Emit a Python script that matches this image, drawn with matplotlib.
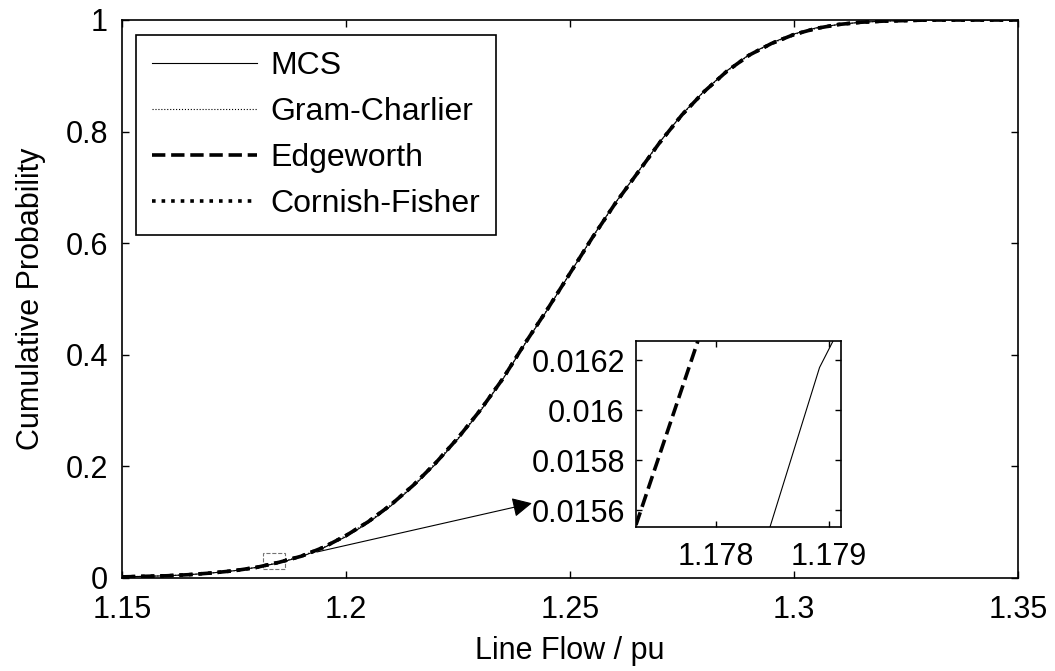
import numpy as np
import matplotlib.pyplot as plt
from matplotlib.patches import Rectangle

plt.rcParams['font.family'] = ['Liberation Sans', 'DejaVu Sans']
plt.rcParams['font.size'] = 22

# cumulative distribution of line flow (pu)
flow = [1.15, 1.155, 1.16, 1.165, 1.17, 1.175, 1.18, 1.185, 1.19, 1.195,
        1.20, 1.205, 1.21, 1.215, 1.22, 1.225, 1.23, 1.235, 1.24, 1.245,
        1.25, 1.255, 1.26, 1.265, 1.27, 1.275, 1.28, 1.285, 1.29, 1.295,
        1.30, 1.305, 1.31, 1.315, 1.32, 1.325, 1.33, 1.35]
cdf_mcs = [0.002, 0.003, 0.004, 0.006, 0.009, 0.013, 0.019, 0.027, 0.038, 0.054,
           0.074, 0.099, 0.129, 0.164, 0.204, 0.249, 0.299, 0.356, 0.420, 0.481,
           0.546, 0.611, 0.671, 0.726, 0.781, 0.831, 0.873, 0.909, 0.938, 0.959,
           0.975, 0.986, 0.992, 0.996, 0.998, 0.999, 1.0, 1.0]
cdf_gc = [0.002, 0.003, 0.004, 0.006, 0.009, 0.013, 0.019, 0.028, 0.039, 0.055,
          0.076, 0.101, 0.131, 0.166, 0.206, 0.251, 0.301, 0.357, 0.421, 0.482,
          0.546, 0.610, 0.670, 0.725, 0.780, 0.830, 0.872, 0.908, 0.937, 0.958,
          0.974, 0.985, 0.992, 0.996, 0.998, 0.999, 1.0, 1.0]
cdf_ew = cdf_gc
cdf_cf = cdf_gc

# zoomed segment around 1.178 pu
zoom_x_mcs = [1.17848, 1.17892, 1.17904]
zoom_y_mcs = [0.015532, 0.016170, 0.016276]
zoom_x_exp = [1.17729, 1.17784]
zoom_y_exp = [0.015540, 0.016276]

fig = plt.figure(figsize=(10.55, 6.71), dpi=100)
ax = fig.add_axes([0.1156, 0.1386, 0.8493, 0.8316])

ax.plot(flow, cdf_mcs, 'k-', lw=0.8, label='MCS')
ax.plot(flow, cdf_gc, color='k', ls=':', lw=0.8, label='Gram-Charlier')
ax.plot(flow, cdf_ew, 'k--', lw=2.6, label='Edgeworth')
ax.plot(flow, cdf_cf, 'k:', lw=2.6, label='Cornish-Fisher')

ax.set_xlim(1.15, 1.35)
ax.set_ylim(0, 1)
ax.set_xticks([1.15, 1.2, 1.25, 1.3, 1.35])
ax.set_xticklabels(['1.15', '1.2', '1.25', '1.3', '1.35'])
ax.set_yticks([0, 0.2, 0.4, 0.6, 0.8, 1])
ax.set_yticklabels(['0', '0.2', '0.4', '0.6', '0.8', '1'])
ax.tick_params(direction='in', top=True, right=True, length=5, width=1, pad=10)
ax.tick_params(axis='x', pad=12)
for s in ax.spines.values():
    s.set_linewidth(1.2)
ax.set_xlabel('Line Flow / pu', labelpad=8)
ax.set_ylabel('Cumulative Probability', labelpad=14)

leg = ax.legend(loc='upper left', bbox_to_anchor=(0.0156, 0.973), fancybox=False,
                framealpha=1, edgecolor='k', handlelength=3.3, handletextpad=0.4,
                labelspacing=0.5, borderpad=0.5, borderaxespad=0, fontsize=23)
leg.get_frame().set_linewidth(1.2)

# marker of the magnified region and arrow to the inset
ax.add_patch(Rectangle((1.1815, 0.0161), 0.0049, 0.0287, fill=False,
                       ec='0.45', ls='--', lw=0.8))
ax.annotate('', xy=(1.2415, 0.134), xytext=(1.1935, 0.0466),
            arrowprops=dict(arrowstyle='-|>', color='k', lw=0.8,
                            mutation_scale=30, shrinkA=0, shrinkB=0))

ins = fig.add_axes([0.6028, 0.2146, 0.1943, 0.2772])
ins.plot(zoom_x_mcs, zoom_y_mcs, 'k-', lw=0.8)
ins.plot(zoom_x_exp, zoom_y_exp, 'k--', lw=2.6)
ins.set_xlim(1.17729, 1.17911)
ins.set_ylim(0.015532, 0.016276)
ins.set_xticks([1.178, 1.179])
ins.set_xticklabels(['1.178', '1.179'])
ins.set_yticks([0.0156, 0.0158, 0.016, 0.0162])
ins.set_yticklabels(['0.0156', '0.0158', '0.016', '0.0162'])
ins.tick_params(direction='in', top=True, right=True, length=4, width=1, pad=8,
                labelsize=22)
ins.tick_params(axis='x', pad=11)
for s in ins.spines.values():
    s.set_linewidth(1.2)

fig.savefig('out.png', dpi=100)
